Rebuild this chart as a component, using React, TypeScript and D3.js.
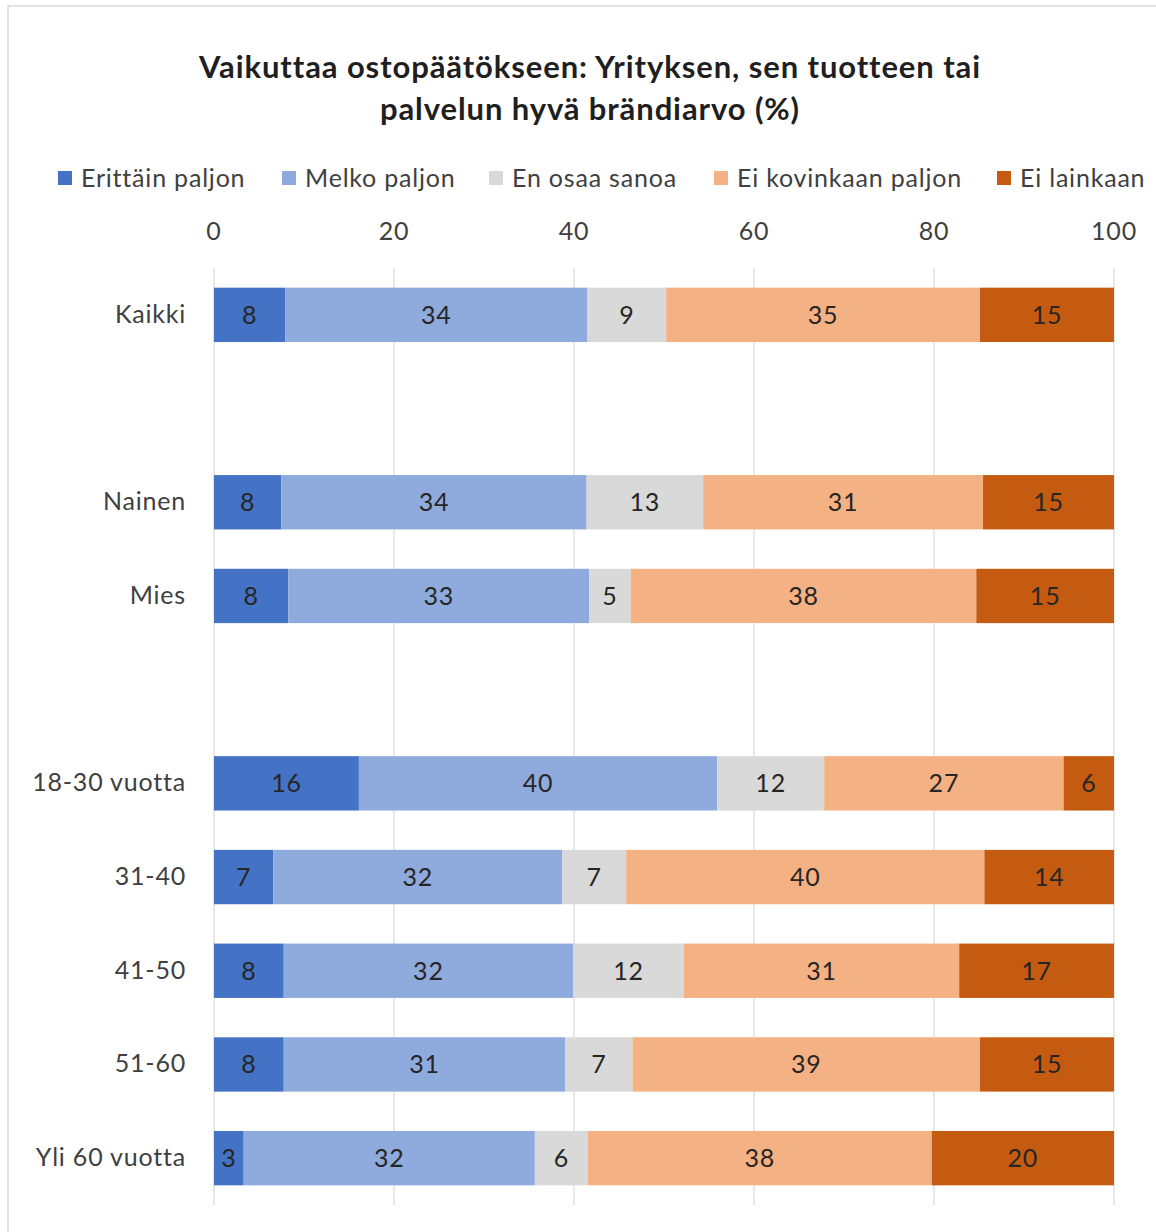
import React from "react";
import * as d3 from "d3";

const title1 = "Vaikuttaa ostopäätökseen: Yrityksen, sen tuotteen tai";
const title2 = "palvelun hyvä brändiarvo (%)";

const categories = ["Kaikki", "", "Nainen", "Mies", "", "18-30 vuotta", "31-40", "41-50", "51-60", "Yli 60 vuotta"];
const seriesNames = ["Erittäin paljon", "Melko paljon", "En osaa sanoa", "Ei kovinkaan paljon", "Ei lainkaan"];
const seriesColors = ["#4472C4", "#8FAADC", "#D9D9D9", "#F4B183", "#C55A11"];

const erittainPaljon = [7.9, null, 7.5, 8.25, null, 16.1, 6.6, 7.75, 7.75, 3.3];
const melkoPaljon = [33.6, null, 33.9, 33.45, null, 39.8, 32.1, 32.15, 31.3, 32.35];
const enOsaaSanoa = [8.75, null, 12.95, 4.6, null, 11.9, 7.1, 12.3, 7.45, 5.9];
const eiKovinkaan = [34.85, null, 31.1, 38.4, null, 26.6, 39.8, 30.6, 38.6, 38.2];
const eiLainkaan = [14.9, null, 14.55, 15.3, null, 5.6, 14.4, 17.2, 14.9, 20.25];

const xTicks = [0, 20, 40, 60, 80, 100];

const W = 1156;
const H = 1232;
const FONT = "Lato, 'Noto Sans', sans-serif";
const FS = 25;
const LS = 0.8;

export default function App() {
  const seriesValues = [erittainPaljon, melkoPaljon, enOsaaSanoa, eiKovinkaan, eiLainkaan];
  const x = d3.scaleLinear().domain([0, 100]).range([214, 1114]);
  const y = d3
    .scaleBand<number>()
    .domain(categories.map((_, i) => i))
    .range([268, 1205])
    .paddingInner(0.42)
    .paddingOuter(0.21);

  const rows = categories.map((c, i) => {
    const vals = seriesValues.map((s) => s[i]);
    if (vals.some((v) => v == null)) return null;
    let acc = 0;
    return vals.map((v, k) => {
      const x0 = acc;
      acc += v as number;
      return { k, x0, x1: acc, v: v as number };
    });
  });

  const legendX = [58, 282, 489, 714, 997];

  return (
    <svg width={W} height={H} style={{ position: "absolute", left: 0, top: 0, background: "#fff" }} fontFamily={FONT}>
      <rect x={8} y={6} width={W + 10} height={H + 10} fill="#fff" stroke="#D9D9D9" strokeWidth={1.5} />
      <text x={590} y={78} textAnchor="middle" fontSize={31} letterSpacing={0.9} fontWeight="bold" fill="#1f1f1f">{title1}</text>
      <text x={590} y={120} textAnchor="middle" fontSize={31} letterSpacing={0.9} fontWeight="bold" fill="#1f1f1f">{title2}</text>

      {seriesNames.map((n, k) => (
        <g key={n}>
          <rect x={legendX[k]} y={171} width={14} height={14} fill={seriesColors[k]} />
          <text x={legendX[k] + 23} y={187} fontSize={FS} letterSpacing={LS} fill="#404040">{n}</text>
        </g>
      ))}

      {xTicks.map((t) => (
        <g key={t}>
          <line x1={x(t)} x2={x(t)} y1={268} y2={1205} stroke="#D9D9D9" strokeWidth={1.2} />
          <text x={x(t)} y={240} textAnchor="middle" fontSize={FS} letterSpacing={LS} fill="#404040">{t}</text>
        </g>
      ))}

      {categories.map((c, i) => (
        <text key={i} x={186} y={(y(i) as number) + y.bandwidth() / 2 + 8} textAnchor="end" fontSize={FS} letterSpacing={LS} fill="#404040">{c}</text>
      ))}

      {rows.map((segs, i) =>
        segs == null ? null : (
          <g key={i}>
            {segs.map((s) => (
              <g key={s.k}>
                <rect x={x(s.x0)} y={y(i)} width={x(s.x1) - x(s.x0)} height={y.bandwidth()} fill={seriesColors[s.k]} />
                <text x={(x(s.x0) + x(s.x1)) / 2} y={(y(i) as number) + y.bandwidth() / 2 + 9} textAnchor="middle" fontSize={FS} letterSpacing={LS} fill="#262626">{Math.round(s.v)}</text>
              </g>
            ))}
          </g>
        )
      )}
    </svg>
  );
}
